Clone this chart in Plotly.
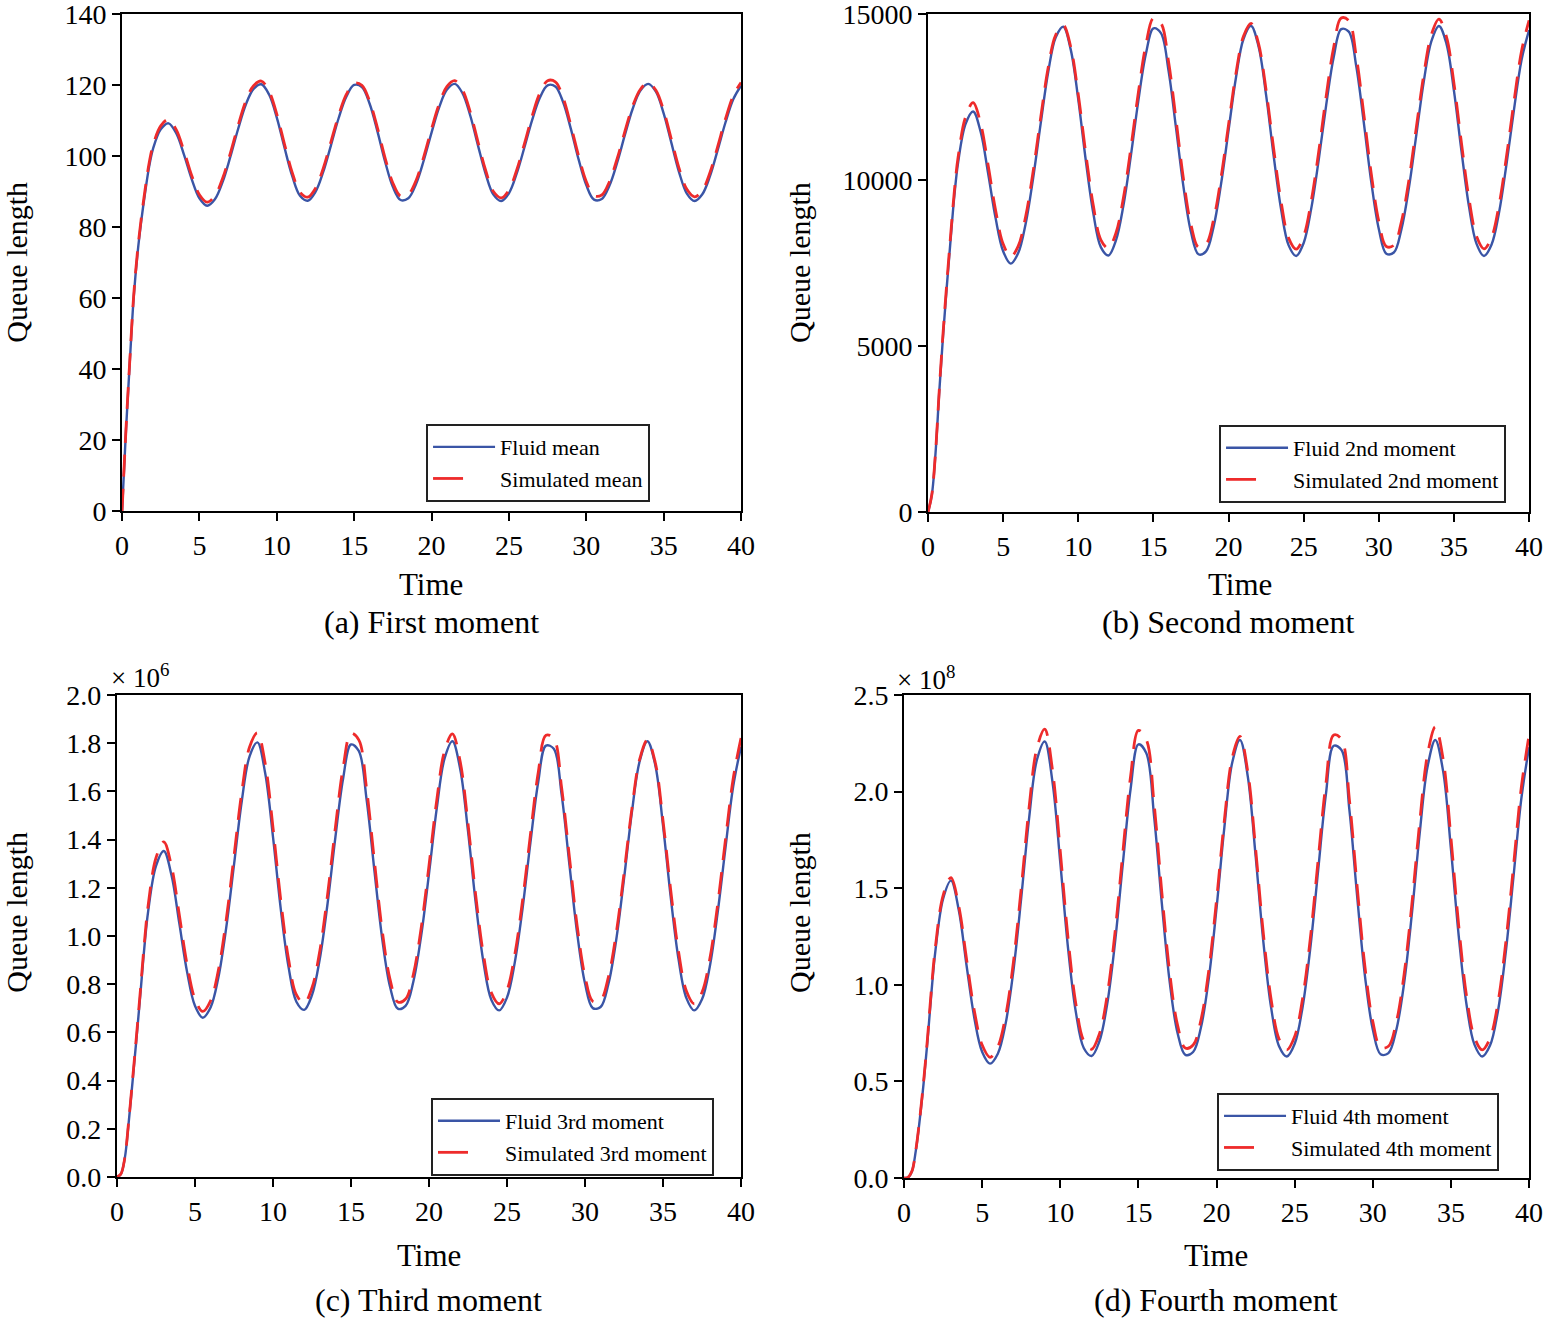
import plotly.graph_objects as go

FONT = "Liberation Serif"
BLUE = "#3a55a6"
RED = "#ee2b2b"

time = [0, 0.25, 0.5, 0.75, 1.0, 1.25, 1.5, 1.75, 2.0, 2.5, 3.0, 3.5, 4.0, 4.5, 5.0, 5.5,
        6.0, 6.5, 7.0, 7.5, 8.0, 8.5, 9.0, 9.5, 10.0, 10.5, 11.0, 11.5, 12.0, 12.5, 13.0,
        13.5, 14.0, 14.5, 15.0, 15.5, 16.0, 16.5, 17.0, 17.5, 18.0, 18.5, 19.0, 19.5, 20.0,
        20.5, 21.0, 21.5, 22.0, 22.5, 23.0, 23.5, 24.0, 24.5, 25.0, 25.5, 26.0, 26.5, 27.0,
        27.5, 28.0, 28.5, 29.0, 29.5, 30.0, 30.5, 31.0, 31.5, 32.0, 32.5, 33.0, 33.5, 34.0,
        34.5, 35.0, 35.5, 36.0, 36.5, 37.0, 37.5, 38.0, 38.5, 39.0, 39.5, 40.0]

# (a) first moment
fluid_mean = [0, 22.5, 42.0, 60.0, 72.5, 82.0, 90.0, 97.0, 102.0, 107.5, 109.2, 106.4, 100.4,
              93.5, 88.1, 86.0, 87.8, 92.7, 99.8, 107.6, 114.5, 118.9, 120.2, 117.3, 110.8,
              102.3, 94.3, 88.8, 87.4, 89.9, 95.5, 103.0, 110.7, 116.8, 120.0, 119.4, 114.7,
              107.0, 98.4, 91.3, 87.6, 88.1, 92.1, 98.8, 106.6, 113.8, 118.7, 120.3, 117.7,
              111.4, 103.0, 94.9, 89.1, 87.3, 89.5, 95.0, 102.4, 110.1, 116.4, 119.9, 119.6,
              115.2, 107.7, 99.1, 91.8, 87.7, 87.9, 91.7, 98.2, 106.0, 113.3, 118.4, 120.3,
              118.1, 112.0, 103.7, 95.4, 89.4, 87.3, 89.2, 94.4, 101.8, 109.5, 116.0, 119.8]
sim_mean = [0, 22.7, 42.4, 60.6, 73.2, 82.8, 90.9, 98.0, 103.0, 108.5, 110.3, 107.4, 101.4,
            94.5, 89.1, 87.0, 88.8, 93.7, 100.8, 108.6, 115.5, 119.8, 121.1, 118.2, 111.8,
            103.3, 95.3, 89.8, 88.4, 90.9, 96.5, 104.0, 111.5, 117.4, 120.5, 119.9, 115.4,
            108.0, 99.4, 92.4, 88.7, 89.2, 93.1, 99.8, 107.6, 114.7, 119.6, 121.2, 118.6,
            112.4, 104.0, 95.9, 90.0, 88.2, 90.4, 96.0, 103.4, 111.2, 117.7, 121.2, 120.9,
            116.4, 108.7, 100.1, 92.8, 88.8, 89.0, 92.8, 99.3, 107.0, 114.1, 118.8, 120.6,
            118.5, 112.8, 104.7, 96.5, 90.6, 88.5, 90.3, 95.4, 102.8, 110.5, 117.0, 120.7]

# (b) second moment
fluid_m2 = [0, 512, 1785, 3642, 5317, 6802, 8194, 9518, 10525, 11690, 12063, 11452, 10197,
            8844, 7852, 7482, 7798, 8693, 10076, 11712, 13262, 14301, 14616, 13919, 12419,
            10587, 8996, 7977, 7727, 8176, 9226, 10732, 12397, 13800, 14567, 14422, 13309,
            11582, 9795, 8432, 7763, 7852, 8581, 9875, 11495, 13101, 14253, 14640, 14014,
            12554, 10732, 9110, 8031, 7710, 8103, 9130, 10607, 12263, 13706, 14543, 14470,
            13425, 11734, 9935, 8525, 7781, 7816, 8506, 9755, 11366, 12986, 14181, 14640,
            14109, 12690, 10878, 9207, 8085, 7710, 8049, 9015, 10483, 12129, 13612, 14518]
sim_m2 = [0, 520, 1812, 3697, 5397, 6904, 8317, 9661, 10683, 11900, 12328, 11704, 10442,
          9083, 8072, 7691, 8009, 8910, 10278, 11888, 13395, 14373, 14660, 14003, 12568,
          10799, 9230, 8200, 7943, 8397, 9457, 10968, 12645, 14076, 14873, 14725, 13588,
          11837, 10030, 8651, 7973, 8064, 8796, 10073, 11667, 13232, 14339, 14713, 14098,
          12705, 10947, 9338, 8248, 7918, 8314, 9358, 10851, 12533, 14008, 14877, 14803,
          13720, 11992, 10183, 8755, 7999, 8035, 8736, 9989, 11593, 13194, 14380, 14845,
          14321, 12918, 11117, 9446, 8311, 7926, 8266, 9240, 10714, 12372, 13884, 14808]

# (c) third moment, x 10^6
fluid_m3 = [0, 0.0118, 0.0769, 0.2243, 0.3957, 0.5726, 0.7571, 0.9478, 1.1021, 1.2901, 1.3523,
            1.2509, 1.0510, 0.8489, 0.7101, 0.6605, 0.7029, 0.8273, 1.0323, 1.2937, 1.5589,
            1.7456, 1.8035, 1.6761, 1.4126, 1.1118, 0.8708, 0.7272, 0.6933, 0.7545, 0.9045,
            1.1348, 1.4088, 1.6548, 1.7945, 1.7677, 1.5671, 1.2722, 0.9894, 0.7903, 0.6981,
            0.7101, 0.8113, 1.0016, 1.2580, 1.5305, 1.7368, 1.8080, 1.6933, 1.4357, 1.1348,
            0.8876, 0.7346, 0.6910, 0.7445, 0.8904, 1.1151, 1.3860, 1.6378, 1.7900, 1.7766,
            1.5877, 1.2973, 1.0107, 0.8034, 0.7005, 0.7053, 0.8008, 0.9834, 1.2369, 1.5104,
            1.7237, 1.8080, 1.7106, 1.4590, 1.1581, 0.9017, 0.7420, 0.6910, 0.7371, 0.8736,
            1.0956, 1.3635, 1.6210, 1.7856]
sim_m3 = [0, 0.0120, 0.0784, 0.2288, 0.4036, 0.5841, 0.7722, 0.9668, 1.1263, 1.3236, 1.3902,
          1.2884, 1.0857, 0.8803, 0.7385, 0.6869, 0.7310, 0.8571, 1.0653, 1.3299, 1.5963,
          1.7840, 1.8432, 1.7163, 1.4507, 1.1474, 0.9030, 0.7563, 0.7210, 0.7847, 0.9371,
          1.1711, 1.4497, 1.6995, 1.8412, 1.8137, 1.6110, 1.3116, 1.0240, 0.8211, 0.7260,
          0.7385, 0.8413, 1.0337, 1.2920, 1.5642, 1.7681, 1.8387, 1.7238, 1.4673, 1.1666,
          0.9187, 0.7640, 0.7186, 0.7743, 0.9225, 1.1486, 1.4193, 1.6771, 1.8330, 1.8192,
          1.6163, 1.3284, 1.0410, 0.8331, 0.7285, 0.7335, 0.8296, 1.0109, 1.2592, 1.5255,
          1.7323, 1.8134, 1.7209, 1.4794, 1.1871, 0.9333, 0.7717, 0.7186, 0.7666, 0.9050,
          1.1285, 1.3976, 1.6534, 1.8213]

# (d) fourth moment, x 10^8
fluid_m4 = [0, 0.0028, 0.0337, 0.1403, 0.2990, 0.4894, 0.7102, 0.9582, 1.1716, 1.4455, 1.5391,
            1.3873, 1.0998, 0.8272, 0.6521, 0.5921, 0.6432, 0.7993, 1.0738, 1.4509, 1.8604,
            2.1633, 2.2595, 2.0492, 1.6313, 1.1855, 0.8559, 0.6730, 0.6316, 0.7070, 0.9003,
            1.2183, 1.6255, 2.0145, 2.2445, 2.1999, 1.8735, 1.4188, 1.0148, 0.7521, 0.6374,
            0.6521, 0.7788, 1.0314, 1.3977, 1.8153, 2.1488, 2.2670, 2.0773, 1.6670, 1.2183,
            0.8779, 0.6822, 0.6287, 0.6945, 0.8816, 1.1901, 1.5905, 1.9870, 2.2370, 2.2147,
            1.9063, 1.4563, 1.0440, 0.7687, 0.6403, 0.6462, 0.7654, 1.0066, 1.3665, 1.7836,
            2.1271, 2.2670, 2.1057, 1.7032, 1.2517, 0.8966, 0.6914, 0.6287, 0.6852, 0.8596,
            1.1625, 1.5561, 1.9598, 2.2295]
sim_m4 = [0, 0.0029, 0.0344, 0.1431, 0.3050, 0.4992, 0.7244, 0.9774, 1.1927, 1.4628, 1.5545,
          1.4081, 1.1328, 0.8644, 0.6880, 0.6247, 0.6786, 0.8393, 1.1189, 1.5017, 1.9162,
          2.2239, 2.3228, 2.1107, 1.6884, 1.2365, 0.8987, 0.7100, 0.6663, 0.7459, 0.9453,
          1.2695, 1.6840, 2.0810, 2.3163, 2.2703, 1.9391, 1.4756, 1.0635, 0.7927, 0.6725,
          0.6880, 0.8177, 1.0727, 1.4396, 1.8516, 2.1746, 2.2851, 2.1022, 1.7037, 1.2609,
          0.9200, 0.7197, 0.6633, 0.7327, 0.9257, 1.2401, 1.6446, 2.0426, 2.2929, 2.2701,
          1.9597, 1.5073, 1.0910, 0.8094, 0.6755, 0.6817, 0.8052, 1.0519, 1.4171, 1.8407,
          2.1909, 2.3350, 2.1689, 1.7611, 1.3043, 0.9414, 0.7294, 0.6633, 0.7229, 0.9026,
          1.2113, 1.6106, 2.0186, 2.2919]

panels = [
    ("x", "y", "legend", fluid_mean, sim_mean, "Fluid mean", "Simulated mean"),
    ("x2", "y2", "legend2", fluid_m2, sim_m2, "Fluid 2nd moment", "Simulated 2nd moment"),
    ("x3", "y3", "legend3", fluid_m3, sim_m3, "Fluid 3rd moment", "Simulated 3rd moment"),
    ("x4", "y4", "legend4", fluid_m4, sim_m4, "Fluid 4th moment", "Simulated 4th moment"),
]

fig = go.Figure()
for xa, ya, lg, fluid, sim, n1, n2 in panels:
    fig.add_trace(go.Scatter(x=time, y=fluid, mode="lines", name=n1, xaxis=xa, yaxis=ya,
                             legend=lg, line=dict(color=BLUE, width=2.4, shape="spline")))
    fig.add_trace(go.Scatter(x=time, y=sim, mode="lines", name=n2, xaxis=xa, yaxis=ya,
                             legend=lg, showlegend=False,
                             line=dict(color=RED, width=2.8, dash="22px,12px",
                                       shape="spline")))
    # legend key only: the reference shows a single short dash
    fig.add_trace(go.Scatter(x=[None], y=[None], mode="lines", name=n2, xaxis=xa, yaxis=ya,
                             legend=lg, hoverinfo="skip",
                             line=dict(color=RED, width=2.8, dash="30px,60px")))

axis_style = dict(showline=True, linecolor="black", linewidth=2, mirror=True,
                  ticks="outside", ticklen=8, tickwidth=2, tickcolor="black",
                  showgrid=False, zeroline=False, automargin=False,
                  ticklabeloverflow="allow",
                  tickfont=dict(family=FONT, size=28, color="black"))
x_style = dict(axis_style, range=[0, 40], dtick=5, tick0=0)

legend_style = dict(xanchor="left", yanchor="top", bgcolor="white", bordercolor="#222",
                    borderwidth=2, font=dict(family=FONT, size=22, color="black"),
                    tracegroupgap=0, itemwidth=62)

fig.update_layout(
    width=1547, height=1319,
    margin=dict(l=0, r=0, t=0, b=0),
    paper_bgcolor="white", plot_bgcolor="white",
    font=dict(family=FONT, color="black"),
    xaxis=dict(x_style, domain=[0.0789, 0.4790], anchor="y"),
    yaxis=dict(axis_style, domain=[0.6126, 0.9894], anchor="x", range=[0, 140], dtick=20),
    xaxis2=dict(x_style, domain=[0.5999, 0.9884], anchor="y2"),
    yaxis2=dict(axis_style, domain=[0.6118, 0.9894], anchor="x2", range=[0, 15000],
                tickvals=[0, 5000, 10000, 15000], tickformat="d"),
    xaxis3=dict(x_style, domain=[0.0756, 0.4790], anchor="y3"),
    yaxis3=dict(axis_style, domain=[0.1077, 0.4731], anchor="x3", range=[0, 2.0],
                dtick=0.2, tickformat=".1f"),
    xaxis4=dict(x_style, domain=[0.5844, 0.9884], anchor="y4"),
    yaxis4=dict(axis_style, domain=[0.1069, 0.4731], anchor="x4", range=[0, 2.5],
                dtick=0.5, tickformat=".1f"),
    legend=dict(legend_style, x=0.2754, y=0.6785),
    legend2=dict(legend_style, x=0.7880, y=0.6778),
    legend3=dict(legend_style, x=0.2786, y=0.1676),
    legend4=dict(legend_style, x=0.7867, y=0.1713),
)

def label(text, x, y, size, angle=0):
    fig.add_annotation(text=text, x=x, y=y, xref="paper", yref="paper", showarrow=False,
                       xanchor="center", yanchor="middle", textangle=angle,
                       font=dict(family=FONT, size=size, color="black"))

# axis titles and captions
for tx, ty, cx, cy, cap in [(0.2789, 0.5572, 0.2789, 0.5284, "(a) First moment"),
                            (0.8015, 0.5572, 0.7941, 0.5284, "(b) Second moment"),
                            (0.2773, 0.0478, 0.2773, 0.0144, "(c) Third moment"),
                            (0.7860, 0.0478, 0.7860, 0.0144, "(d) Fourth moment")]:
    label("Time", tx, ty, 31)
    label(cap, cx, cy, 32)

for qx, qy in [(0.0108, 0.8014), (0.5171, 0.8014), (0.0108, 0.3086), (0.5171, 0.3086)]:
    label("Queue length", qx, qy, 30, angle=-90)

label("× 10<sup>6</sup>", 0.0905, 0.4875, 27)
label("× 10<sup>8</sup>", 0.5986, 0.4860, 27)

# the page's default body margin would push the 1547x1319 figure off screen
fig.write_html("out.html", config={"displayModeBar": False},
               post_script="document.body.style.margin = '0';")
